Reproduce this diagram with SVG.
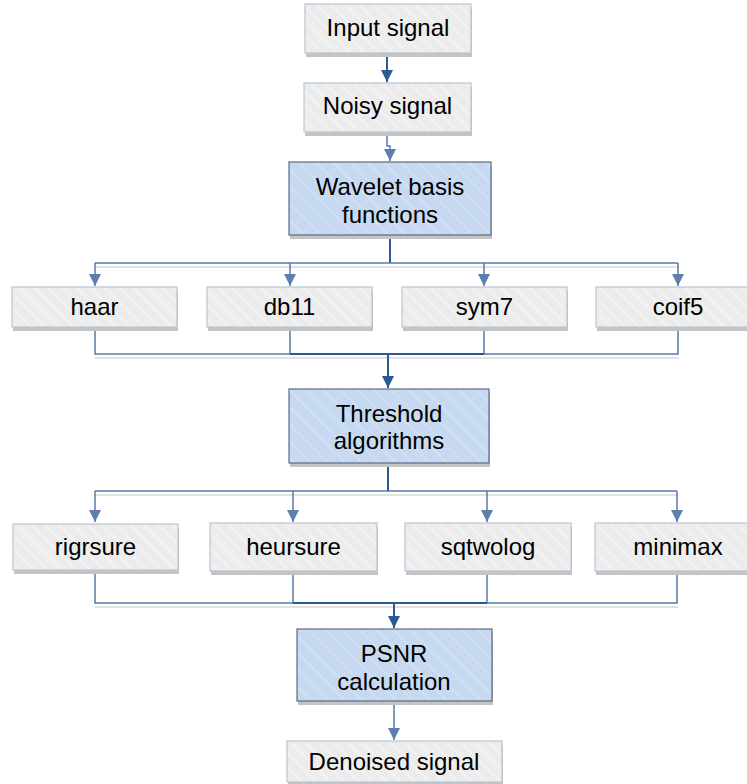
<svg xmlns="http://www.w3.org/2000/svg" width="747" height="784" viewBox="0 0 747 784">
  <defs>
    <pattern id="hatchGray" patternUnits="userSpaceOnUse" width="10" height="10" patternTransform="rotate(-45)">
      <rect width="10" height="10" fill="#ececec"/>
      <line x1="0" y1="0" x2="0" y2="10" stroke="#f5f5f5" stroke-width="3"/>
    </pattern>
    <pattern id="hatchBlue" patternUnits="userSpaceOnUse" width="12" height="12" patternTransform="rotate(-45)">
      <rect width="12" height="12" fill="#c6d9f0"/>
      <line x1="0" y1="0" x2="0" y2="12" stroke="#d4e2f4" stroke-width="3"/>
    </pattern>
    <!-- downward-pointing heads; every arrowed wire ends travelling down -->
    <marker id="arrLight" markerUnits="userSpaceOnUse" markerWidth="12" markerHeight="13" refX="6" refY="12" viewBox="0 0 12 13">
      <path d="M0,0 L12,0 L6,12 Z" fill="#5d7fae"/>
    </marker>
    <marker id="arrDark" markerUnits="userSpaceOnUse" markerWidth="12" markerHeight="13" refX="6" refY="12" viewBox="0 0 12 13">
      <path d="M0,0 L12,0 L6,12 Z" fill="#2e5a94"/>
    </marker>
  </defs>
  <style>
    .shadow { fill: #c4c4c4; }
    .gbox { fill: url(#hatchGray); stroke: #b6c6d8; stroke-width: 1.2; }
    .bbox { fill: url(#hatchBlue); stroke: #5d6b80; stroke-width: 1.2; }
    .lbl { font-family: "Liberation Sans", Arial, sans-serif; font-size: 24px; fill: #000; text-anchor: middle; }
    .wire { fill: none; stroke: #5878a6; stroke-width: 1.5; }
    .trunk { fill: none; stroke: #2e5a94; stroke-width: 2; }
    .wshadow { fill: none; stroke: #e2e2e2; stroke-width: 2; }
  </style>

  <rect width="747" height="784" fill="#ffffff"/>

  <!-- connectors -->
  <g id="connectors">
    <!-- soft shadows under horizontal buses -->
    <path class="wshadow" d="M95,267 H679"/>
    <path class="wshadow" d="M95,358 H679"/>
    <path class="wshadow" d="M95,495 H678"/>
    <path class="wshadow" d="M95,607 H678"/>

    <path class="trunk" d="M387,53 V82" marker-end="url(#arrDark)"/>
    <path class="wire" d="M387,132 V146 H390 V161" marker-end="url(#arrLight)"/>

    <!-- wavelet fan-out -->
    <path class="trunk" d="M390,235 V263"/>
    <path class="wire" d="M95,263 H678"/>
    <path class="wire" d="M95,263 V286" marker-end="url(#arrLight)"/>
    <path class="wire" d="M290,263 V286" marker-end="url(#arrLight)"/>
    <path class="wire" d="M484,263 V286" marker-end="url(#arrLight)"/>
    <path class="wire" d="M678,263 V286" marker-end="url(#arrLight)"/>

    <!-- wavelet fan-in -->
    <path class="wire" d="M95,327 V354 H678 V327"/>
    <path class="wire" d="M290,327 V354"/>
    <path class="wire" d="M484,327 V354"/>
    <path class="trunk" d="M290,354 H484"/>
    <path class="trunk" d="M388,354 V388" marker-end="url(#arrDark)"/>

    <!-- threshold fan-out -->
    <path class="trunk" d="M388,463 V491"/>
    <path class="wire" d="M95,491 H677"/>
    <path class="wire" d="M95,491 V522" marker-end="url(#arrLight)"/>
    <path class="wire" d="M293,491 V522" marker-end="url(#arrLight)"/>
    <path class="wire" d="M487,491 V522" marker-end="url(#arrLight)"/>
    <path class="wire" d="M677,491 V522" marker-end="url(#arrLight)"/>

    <!-- threshold fan-in -->
    <path class="wire" d="M95,570 V603 H677 V571"/>
    <path class="wire" d="M293,571 V603"/>
    <path class="wire" d="M487,571 V603"/>
    <path class="trunk" d="M293,603 H487"/>
    <path class="trunk" d="M394,603 V628" marker-end="url(#arrDark)"/>

    <path class="wire" d="M394,701 V740" marker-end="url(#arrLight)"/>
  </g>

  <!-- nodes -->
  <g id="input">
    <rect class="shadow" x="306" y="8" width="166" height="49"/>
    <rect class="gbox" x="305" y="4" width="166" height="49"/>
    <text class="lbl" x="388" y="36">Input signal</text>
  </g>
  <g id="noisy">
    <rect class="shadow" x="305" y="87" width="167" height="49"/>
    <rect class="gbox" x="304" y="83" width="167" height="49"/>
    <text class="lbl" x="387.5" y="114">Noisy signal</text>
  </g>
  <g id="wavelet">
    <rect class="shadow" x="290" y="166" width="202" height="73"/>
    <rect class="bbox" x="289" y="162" width="202" height="73"/>
    <text class="lbl" x="390" y="195">Wavelet basis</text>
    <text class="lbl" x="390" y="223">functions</text>
  </g>
  <g id="haar">
    <rect class="shadow" x="13" y="291" width="165" height="40"/>
    <rect class="gbox" x="12" y="287" width="165" height="40"/>
    <text class="lbl" x="94.5" y="315">haar</text>
  </g>
  <g id="db11">
    <rect class="shadow" x="208" y="291" width="165" height="40"/>
    <rect class="gbox" x="207" y="287" width="165" height="40"/>
    <text class="lbl" x="289.5" y="315">db11</text>
  </g>
  <g id="sym7">
    <rect class="shadow" x="403" y="291" width="165" height="40"/>
    <rect class="gbox" x="402" y="287" width="165" height="40"/>
    <text class="lbl" x="484.5" y="315">sym7</text>
  </g>
  <g id="coif5">
    <rect class="shadow" x="597" y="291" width="165" height="40"/>
    <rect class="gbox" x="596" y="287" width="165" height="40"/>
    <text class="lbl" x="678" y="315">coif5</text>
  </g>
  <g id="threshold">
    <rect class="shadow" x="290" y="393" width="200" height="74"/>
    <rect class="bbox" x="289" y="389" width="200" height="74"/>
    <text class="lbl" x="389" y="422">Threshold</text>
    <text class="lbl" x="389" y="449">algorithms</text>
  </g>
  <g id="rigrsure">
    <rect class="shadow" x="14" y="528" width="165" height="46"/>
    <rect class="gbox" x="13" y="524" width="165" height="46"/>
    <text class="lbl" x="95.5" y="555">rigrsure</text>
  </g>
  <g id="heursure">
    <rect class="shadow" x="211" y="527" width="167" height="48"/>
    <rect class="gbox" x="210" y="523" width="167" height="48"/>
    <text class="lbl" x="293.5" y="555">heursure</text>
  </g>
  <g id="sqtwolog">
    <rect class="shadow" x="406" y="527" width="166" height="48"/>
    <rect class="gbox" x="405" y="523" width="166" height="48"/>
    <text class="lbl" x="488" y="555">sqtwolog</text>
  </g>
  <g id="minimax">
    <rect class="shadow" x="596" y="527" width="166" height="48"/>
    <rect class="gbox" x="595" y="523" width="166" height="48"/>
    <text class="lbl" x="678" y="555">minimax</text>
  </g>
  <g id="psnr">
    <rect class="shadow" x="298" y="633" width="195" height="72"/>
    <rect class="bbox" x="297" y="629" width="195" height="72"/>
    <text class="lbl" x="394" y="662">PSNR</text>
    <text class="lbl" x="394" y="690">calculation</text>
  </g>
  <g id="denoised">
    <rect class="shadow" x="288" y="745" width="215" height="41"/>
    <rect class="gbox" x="287" y="741" width="215" height="41"/>
    <text class="lbl" x="394" y="770">Denoised signal</text>
  </g>
</svg>
